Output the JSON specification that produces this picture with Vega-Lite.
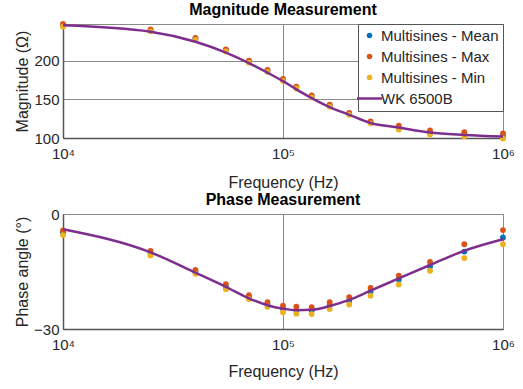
{
  "$schema": "https://vega.github.io/schema/vega-lite/v6.json",
  "background": "white",
  "padding": {"left": 14, "top": 1, "right": 5, "bottom": 5},
  "spacing": 0,
  "datasets": {
    "pts": [
      {"f": 10000, "series": "Multisines - Mean", "mag": 246, "phase": -4.8},
      {"f": 25000, "series": "Multisines - Mean", "mag": 239.5, "phase": -10.2},
      {"f": 40000, "series": "Multisines - Mean", "mag": 228.5, "phase": -15.1},
      {"f": 55000, "series": "Multisines - Mean", "mag": 213.5, "phase": -19.0},
      {"f": 70000, "series": "Multisines - Mean", "mag": 199, "phase": -21.7},
      {"f": 85000, "series": "Multisines - Mean", "mag": 187, "phase": -23.6},
      {"f": 100000, "series": "Multisines - Mean", "mag": 175.5, "phase": -24.7},
      {"f": 115000, "series": "Multisines - Mean", "mag": 165.5, "phase": -25.1},
      {"f": 135000, "series": "Multisines - Mean", "mag": 154, "phase": -25.2},
      {"f": 163000, "series": "Multisines - Mean", "mag": 142, "phase": -23.9},
      {"f": 200000, "series": "Multisines - Mean", "mag": 131.5, "phase": -22.7},
      {"f": 250000, "series": "Multisines - Mean", "mag": 120.5, "phase": -20.3},
      {"f": 336000, "series": "Multisines - Mean", "mag": 113.5, "phase": -17.1},
      {"f": 466000, "series": "Multisines - Mean", "mag": 107.2, "phase": -13.7},
      {"f": 667000, "series": "Multisines - Mean", "mag": 104.8, "phase": -9.8},
      {"f": 1000000, "series": "Multisines - Mean", "mag": 102.8, "phase": -6.1},
      {"f": 10000, "series": "Multisines - Max", "mag": 247.5, "phase": -4.3},
      {"f": 25000, "series": "Multisines - Max", "mag": 240.5, "phase": -9.6},
      {"f": 40000, "series": "Multisines - Max", "mag": 229.5, "phase": -14.6},
      {"f": 55000, "series": "Multisines - Max", "mag": 214.5, "phase": -18.3},
      {"f": 70000, "series": "Multisines - Max", "mag": 200, "phase": -21.2},
      {"f": 85000, "series": "Multisines - Max", "mag": 188, "phase": -23.0},
      {"f": 100000, "series": "Multisines - Max", "mag": 176.5, "phase": -23.9},
      {"f": 115000, "series": "Multisines - Max", "mag": 166.5, "phase": -24.2},
      {"f": 135000, "series": "Multisines - Max", "mag": 155, "phase": -24.3},
      {"f": 163000, "series": "Multisines - Max", "mag": 143, "phase": -23.0},
      {"f": 200000, "series": "Multisines - Max", "mag": 132.5, "phase": -21.7},
      {"f": 250000, "series": "Multisines - Max", "mag": 121.5, "phase": -19.3},
      {"f": 336000, "series": "Multisines - Max", "mag": 116, "phase": -16.1},
      {"f": 466000, "series": "Multisines - Max", "mag": 109.8, "phase": -12.5},
      {"f": 667000, "series": "Multisines - Max", "mag": 107.5, "phase": -7.9},
      {"f": 1000000, "series": "Multisines - Max", "mag": 106, "phase": -4.2},
      {"f": 10000, "series": "Multisines - Min", "mag": 244, "phase": -5.5},
      {"f": 25000, "series": "Multisines - Min", "mag": 238, "phase": -10.8},
      {"f": 40000, "series": "Multisines - Min", "mag": 227, "phase": -15.6},
      {"f": 55000, "series": "Multisines - Min", "mag": 212, "phase": -19.6},
      {"f": 70000, "series": "Multisines - Min", "mag": 197.5, "phase": -22.2},
      {"f": 85000, "series": "Multisines - Min", "mag": 185.5, "phase": -24.2},
      {"f": 100000, "series": "Multisines - Min", "mag": 174, "phase": -25.6},
      {"f": 115000, "series": "Multisines - Min", "mag": 164, "phase": -26.0},
      {"f": 135000, "series": "Multisines - Min", "mag": 152.5, "phase": -26.1},
      {"f": 163000, "series": "Multisines - Min", "mag": 140.5, "phase": -24.8},
      {"f": 200000, "series": "Multisines - Min", "mag": 130, "phase": -23.6},
      {"f": 250000, "series": "Multisines - Min", "mag": 119, "phase": -21.3},
      {"f": 336000, "series": "Multisines - Min", "mag": 111, "phase": -18.4},
      {"f": 466000, "series": "Multisines - Min", "mag": 104.5, "phase": -14.8},
      {"f": 667000, "series": "Multisines - Min", "mag": 102, "phase": -11.5},
      {"f": 1000000, "series": "Multisines - Min", "mag": 99.5, "phase": -7.9}
    ],
    "wk": [
      {"f": 10000, "series": "WK 6500B", "mag": 245.8, "phase": -4.0},
      {"f": 25000, "series": "WK 6500B", "mag": 237.5, "phase": -10.0},
      {"f": 40000, "series": "WK 6500B", "mag": 224.5, "phase": -15.3},
      {"f": 55000, "series": "WK 6500B", "mag": 210.5, "phase": -19.0},
      {"f": 70000, "series": "WK 6500B", "mag": 197, "phase": -22.0},
      {"f": 85000, "series": "WK 6500B", "mag": 184.5, "phase": -23.8},
      {"f": 100000, "series": "WK 6500B", "mag": 173.5, "phase": -24.7},
      {"f": 115000, "series": "WK 6500B", "mag": 163, "phase": -25.1},
      {"f": 135000, "series": "WK 6500B", "mag": 151.7, "phase": -25.0},
      {"f": 163000, "series": "WK 6500B", "mag": 140, "phase": -24.0},
      {"f": 200000, "series": "WK 6500B", "mag": 130, "phase": -22.4},
      {"f": 250000, "series": "WK 6500B", "mag": 119.5, "phase": -20.0},
      {"f": 336000, "series": "WK 6500B", "mag": 113.5, "phase": -16.8},
      {"f": 466000, "series": "WK 6500B", "mag": 107, "phase": -13.3},
      {"f": 667000, "series": "WK 6500B", "mag": 104, "phase": -9.6},
      {"f": 1000000, "series": "WK 6500B", "mag": 102, "phase": -6.6}
    ]
  },
  "config": {
    "font": "Liberation Sans",
    "view": {"stroke": "#8a8a8a", "strokeWidth": 1},
    "title": {"fontSize": 16, "fontWeight": "bold", "color": "#000000", "font": "Liberation Sans"},
    "axis": {
      "labelFont": "Liberation Sans",
      "titleFont": "Liberation Sans",
      "labelFontSize": 15,
      "titleFontSize": 16,
      "titleFontWeight": "normal",
      "labelColor": "#262626",
      "titleColor": "#262626",
      "domainColor": "#555555",
      "domainWidth": 1.5,
      "gridColor": "#8a8a8a",
      "gridWidth": 1,
      "gridOpacity": 1,
      "ticks": false
    },
    "legend": {
      "labelFont": "Liberation Sans",
      "labelFontSize": 15,
      "labelColor": "#262626"
    }
  },
  "resolve": {"scale": {"color": "shared"}, "legend": {"color": "independent"}},
  "vconcat": [
    {
      "title": {"text": "Magnitude Measurement", "offset": 2},
      "width": 440,
      "height": 114,
      "layer": [
        {
          "data": {"name": "pts"},
          "mark": {"type": "point", "filled": true, "size": 34, "opacity": 1},
          "encoding": {
            "x": {"field": "f", "type": "quantitative", "scale": {"type": "log", "domain": [10000, 1000000], "nice": false},
              "axis": {"values": [10000, 100000, 1000000], "labelExpr": "datum.value == 10000 ? '10⁴' : datum.value == 100000 ? '10⁵' : '10⁶'", "title": "Frequency (Hz)", "labelPadding": 8, "titlePadding": 13, "labelFlush": false, "labelOverlap": false}},
            "y": {"field": "mag", "type": "quantitative", "scale": {"domain": [100, 247.5], "nice": false, "zero": false},
              "axis": {"values": [100, 150, 200], "title": "Magnitude (Ω)", "labelPadding": 4, "titlePadding": 3}},
            "color": {"field": "series", "type": "nominal",
              "scale": {"domain": ["Multisines - Mean", "Multisines - Max", "Multisines - Min", "WK 6500B"], "range": ["#0072BD", "#D95319", "#EDB120", "#7E2F8E"]},
              "legend": {
                "title": null, "orient": "top-right", "offset": 0,
                "fillColor": "white", "strokeColor": "#555555", "padding": 4, "rowPadding": 5,
                "symbolType": {"expr": "datum.value === 'WK 6500B' ? 'stroke' : 'circle'"},
                "symbolSize": {"expr": "datum.value === 'WK 6500B' ? 625 : 30"},
                "symbolStrokeWidth": {"expr": "datum.value === 'WK 6500B' ? 2.5 : 0"},
                "symbolOpacity": 1,
                "labelOffset": 4
              }
            }
          }
        },
        {
          "data": {"name": "wk"},
          "mark": {"type": "line", "interpolate": "monotone", "strokeWidth": 2.5},
          "encoding": {
            "x": {"field": "f", "type": "quantitative"},
            "y": {"field": "mag", "type": "quantitative"},
            "color": {"field": "series", "type": "nominal"}
          }
        }
      ]
    },
    {
      "title": {"text": "Phase Measurement", "offset": -1},
      "width": 440,
      "height": 115,
      "layer": [
        {
          "data": {"name": "pts"},
          "mark": {"type": "point", "filled": true, "size": 34, "opacity": 1},
          "encoding": {
            "x": {"field": "f", "type": "quantitative", "scale": {"type": "log", "domain": [10000, 1000000], "nice": false},
              "axis": {"values": [10000, 100000, 1000000], "labelExpr": "datum.value == 10000 ? '10⁴' : datum.value == 100000 ? '10⁵' : '10⁶'", "title": "Frequency (Hz)", "labelPadding": 8, "titlePadding": 11, "labelFlush": false, "labelOverlap": false}},
            "y": {"field": "phase", "type": "quantitative", "scale": {"domain": [-30, 0], "nice": false, "zero": false},
              "axis": {"values": [-30, -20, -10, 0], "title": "Phase angle (°)", "labelPadding": 4, "titlePadding": 3}},
            "color": {"field": "series", "type": "nominal", "legend": null}
          }
        },
        {
          "data": {"name": "wk"},
          "mark": {"type": "line", "interpolate": "monotone", "strokeWidth": 2.5},
          "encoding": {
            "x": {"field": "f", "type": "quantitative"},
            "y": {"field": "phase", "type": "quantitative"},
            "color": {"field": "series", "type": "nominal", "legend": null}
          }
        }
      ]
    }
  ]
}
